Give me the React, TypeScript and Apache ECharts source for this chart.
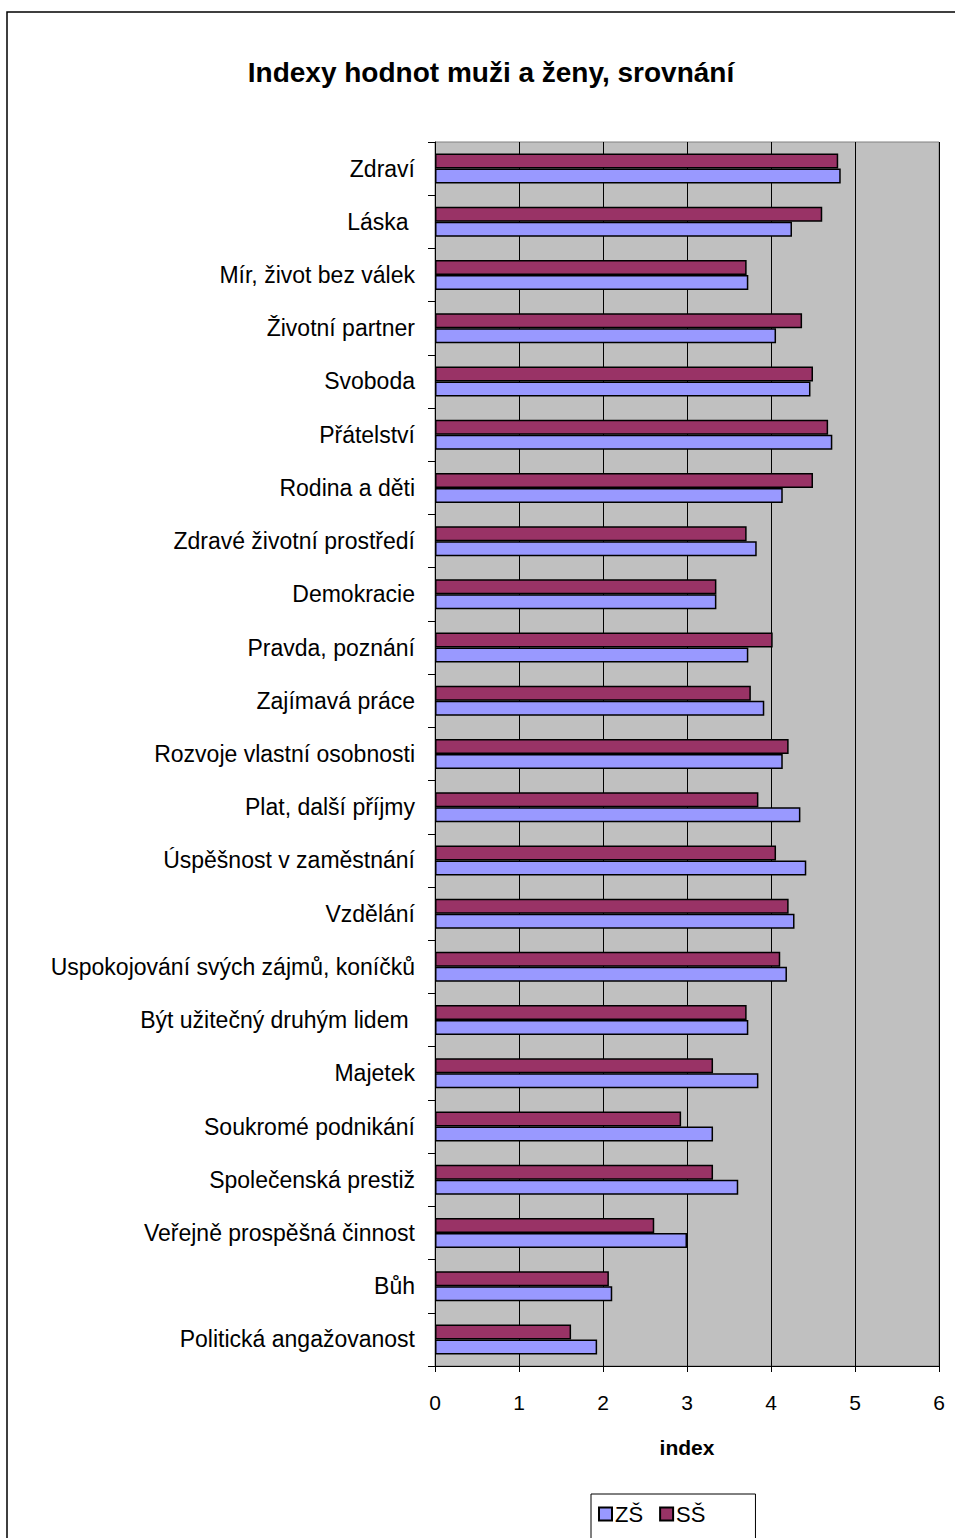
import React, { useEffect, useRef } from "react";
import * as echarts from "echarts";

const categories = [
  "Zdraví",
  "Láska ",
  "Mír, život bez válek",
  "Životní partner",
  "Svoboda",
  "Přátelství",
  "Rodina a děti",
  "Zdravé životní prostředí",
  "Demokracie",
  "Pravda, poznání",
  "Zajímavá práce",
  "Rozvoje vlastní osobnosti",
  "Plat, další příjmy",
  "Úspěšnost v zaměstnání",
  "Vzdělání",
  "Uspokojování svých zájmů, koníčků",
  "Být užitečný druhým lidem ",
  "Majetek",
  "Soukromé podnikání",
  "Společenská prestiž",
  "Veřejně prospěšná činnost",
  "Bůh",
  "Politická angažovanost",
];

const zsValues = [
  4.83, 4.25, 3.73, 4.06, 4.47, 4.73, 4.14, 3.83, 3.35, 3.73, 3.92, 4.14, 4.35,
  4.42, 4.28, 4.19, 3.73, 3.85, 3.31, 3.61, 3.0, 2.11, 1.93,
];

const ssValues = [
  4.8, 4.61, 3.71, 4.37, 4.5, 4.68, 4.5, 3.71, 3.35, 4.02, 3.76, 4.21, 3.85,
  4.06, 4.21, 4.11, 3.71, 3.31, 2.93, 3.31, 2.61, 2.07, 1.62,
];

const seriesNames = ["ZŠ", "SŠ"];
const xTicks = [0, 1, 2, 3, 4, 5, 6];

const FONT = "'Liberation Sans', Arial, sans-serif";

export default function App() {
  const ref = useRef<HTMLDivElement>(null);

  useEffect(() => {
    if (!ref.current) return;
    const chart = echarts.init(ref.current, undefined, { renderer: "svg" });
    chart.setOption({
      animation: false,
      backgroundColor: "#ffffff",
      textStyle: { fontFamily: FONT, color: "#000" },
      title: {
        text: "Indexy hodnot muži a ženy, srovnání",
        left: 486,
        top: 53,
        textAlign: "center",
        textStyle: {
          fontFamily: FONT,
          fontSize: 28,
          fontWeight: "bold",
          color: "#000",
        },
      },
      graphic: [
        {
          type: "rect",
          shape: { x: 7, y: 12, width: 980, height: 1560 },
          style: { fill: "none", stroke: "#000", lineWidth: 1.5 },
          silent: true,
          z: -1,
        },
      ],
      legend: {
        data: [seriesNames[0], seriesNames[1]],
        left: 591,
        top: 1494,
        padding: [9, 50, 20, 7],
        itemWidth: 13,
        itemHeight: 13,
        itemGap: 16,
        icon: "rect",
        borderColor: "#000",
        borderWidth: 1,
        backgroundColor: "#fff",
        textStyle: { fontFamily: FONT, fontSize: 22, color: "#000", padding: [0, 0, 0, -2] },
      },
      grid: {
        left: 435,
        top: 142,
        right: 16,
        bottom: 172,
        show: true,
        backgroundColor: "#C0C0C0",
        borderColor: "#808080",
        borderWidth: 1,
        containLabel: false,
      },
      xAxis: {
        type: "value",
        min: xTicks[0],
        max: xTicks[xTicks.length - 1],
        interval: 1,
        name: "index",
        nameLocation: "middle",
        nameGap: 71,
        nameTextStyle: {
          fontFamily: FONT,
          fontSize: 21,
          fontWeight: "bold",
          color: "#000",
          verticalAlign: "top",
        },
        axisLine: { show: true, lineStyle: { color: "#000", width: 1 } },
        axisTick: { show: true, length: 6, lineStyle: { color: "#000" } },
        axisLabel: {
          fontFamily: FONT,
          fontSize: 21,
          color: "#000",
          margin: 26,
        },
        splitLine: { show: true, lineStyle: { color: "#000", width: 1 } },
      },
      yAxis: {
        type: "category",
        inverse: true,
        data: categories,
        axisLine: { show: true, lineStyle: { color: "#000", width: 1 } },
        axisTick: { show: true, length: 7, lineStyle: { color: "#000" } },
        axisLabel: {
          fontFamily: FONT,
          fontSize: 23,
          color: "#000",
          margin: 20,
        },
        splitLine: { show: false },
      },
      series: [
        {
          name: seriesNames[1],
          type: "bar",
          data: ssValues,
          barWidth: 15,
          barGap: "0%",
          itemStyle: { color: "#993366", borderColor: "#000", borderWidth: 1.5 },
        },
        {
          name: seriesNames[0],
          type: "bar",
          data: zsValues,
          barWidth: 15,
          barGap: "0%",
          itemStyle: { color: "#9999FF", borderColor: "#000", borderWidth: 1.5 },
        },
      ],
    });
    return () => chart.dispose();
  }, []);

  return (
    <div
      ref={ref}
      style={{ position: "absolute", left: 0, top: 0, width: 955, height: 1538 }}
    />
  );
}
